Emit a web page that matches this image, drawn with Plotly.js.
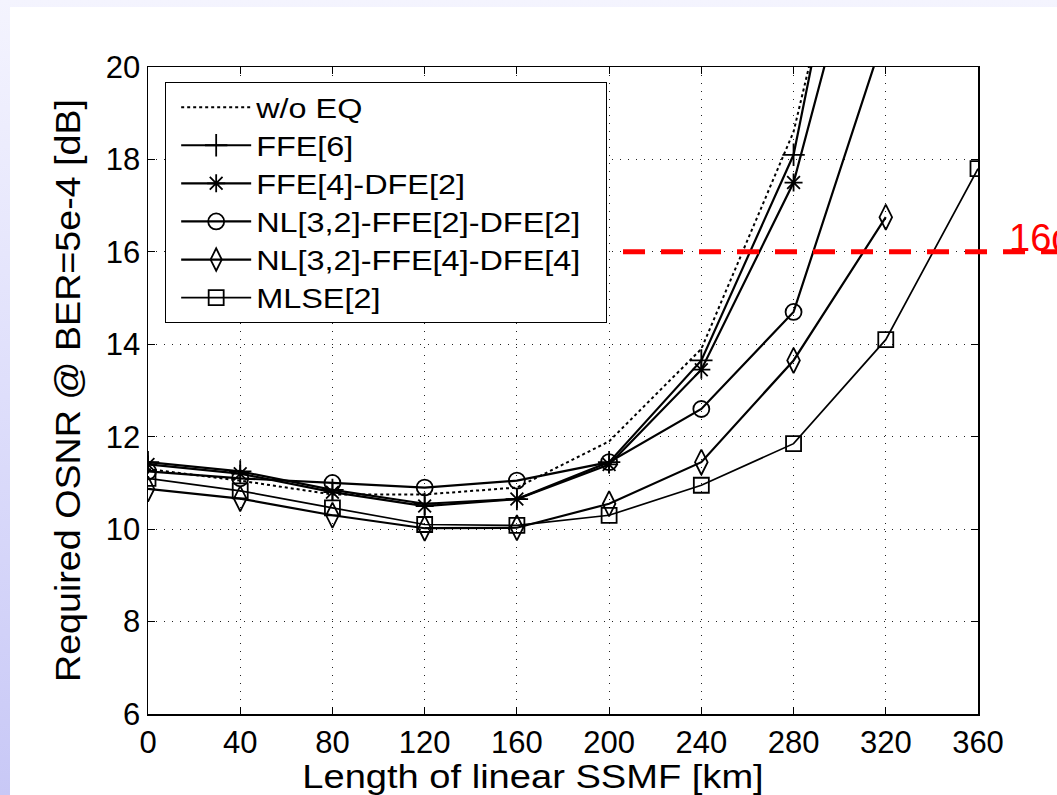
<!DOCTYPE html>
<html>
<head>
<meta charset="utf-8">
<script src="https://cdn.plot.ly/plotly-3.0.1.min.js"></script>
<style>
  html, body { margin:0; padding:0; width:1057px; height:795px; overflow:hidden;
    background: linear-gradient(to bottom, #f4f4fe 0%, #dedefb 50%, #c8c8f6 100%); }
  #panel { position:absolute; left:10px; top:7px; right:0; bottom:0; background:#ffffff; }
  #chart { position:absolute; left:0; top:0; width:1057px; height:795px; }
</style>
</head>
<body>
<div id="panel"></div>
<div id="chart"></div>
<script>
// ---- data ----
const lengthKm   = [0, 40, 80, 120, 160, 200, 240, 280, 320];
const lengthKm10 = [0, 40, 80, 120, 160, 200, 240, 280, 320, 360];
const woEQ       = [11.3, 11.05, 10.75, 10.75, 10.9, 11.9, 13.9, 18.6, 27];
const ffe6       = [11.45, 11.25, 10.85, 10.55, 10.65, 11.45, 13.65, 18.1, 28];
const ffe4dfe2   = [11.4, 11.2, 10.8, 10.5, 10.65, 11.4, 13.45, 17.5, 25];
const nlFfe2Dfe2 = [11.25, 11.1, 11.0, 10.9, 11.05, 11.45, 12.6, 14.7, 20.8];
const nlFfe4Dfe4 = [10.87, 10.66, 10.3, 10.02, 10.03, 10.55, 11.45, 13.65, 16.75];
const mlse2      = [11.1, 10.83, 10.46, 10.1, 10.08, 10.3, 10.95, 11.85, 14.1, 17.8];
const seriesNames = ['w/o EQ', 'FFE[6]', 'FFE[4]-DFE[2]', 'NL[3,2]-FFE[2]-DFE[2]', 'NL[3,2]-FFE[4]-DFE[4]', 'MLSE[2]'];
const xTicks = [0, 40, 80, 120, 160, 200, 240, 280, 320, 360];
const yTicks = [6, 8, 10, 12, 14, 16, 18, 20];
const thresholdOSNR = 16;
const thresholdLabel = '16dB';

const FONT = 'Liberation Sans, Arial, Helvetica, sans-serif';

function tr(x, y, name, symbol, size, lw, dash) {
  const t = { x: x, y: y, name: name, type: 'scatter',
    line: { color: 'black', width: lw, dash: dash || 'solid' } };
  if (symbol) {
    t.mode = 'lines+markers';
    t.marker = { symbol: symbol, size: size, color: 'black', line: { color: 'black', width: 1.8 } };
  } else {
    t.mode = 'lines';
  }
  return t;
}

const data = [
  tr(lengthKm, woEQ, seriesNames[0], null, 0, 2, 'dot'),
  tr(lengthKm, ffe6, seriesNames[1], 'cross-thin-open', 16, 2.2),
  tr(lengthKm, ffe4dfe2, seriesNames[2], 'asterisk-open', 15, 2.2),
  tr(lengthKm, nlFfe2Dfe2, seriesNames[3], 'circle-open', 16, 2.2),
  tr(lengthKm, nlFfe4Dfe4, seriesNames[4], 'diamond-tall-open', 18, 2.2),
  tr(lengthKm10, mlse2, seriesNames[5], 'square-open', 15, 1.7)
];

const axisCommon = {
  showline: true, linecolor: 'black', linewidth: 1.5, mirror: 'ticks',
  ticks: 'inside', ticklen: 7, tickcolor: 'black', tickwidth: 1.2,
  showgrid: true, gridcolor: '#222', gridwidth: 1, griddash: '1px,7px',
  zeroline: false, automargin: false,
  tickfont: { family: FONT, size: 31, color: 'black' }
};

const layout = {
  width: 1057, height: 795,
  margin: { l: 148, r: 79, t: 67, b: 81 },
  paper_bgcolor: 'rgba(0,0,0,0)', plot_bgcolor: 'white',
  font: { family: FONT, color: 'black' },
  showlegend: true,
  xaxis: Object.assign({}, axisCommon, {
    range: [0, 360], tickmode: 'array', tickvals: xTicks,
    title: { text: 'Length of linear SSMF [km]', font: { family: FONT, size: 34, color: 'black' }, standoff: 3 }
  }),
  yaxis: Object.assign({}, axisCommon, {
    range: [6, 20], tickmode: 'array', tickvals: yTicks,
    title: { text: 'Required OSNR @ BER=5e-4 [dB]', font: { family: FONT, size: 35, color: 'black' }, standoff: 14 }
  }),
  legend: {
    x: 0.0325, y: 0.977, xanchor: 'left', yanchor: 'top',
    bgcolor: 'white', bordercolor: 'black', borderwidth: 1.2,
    font: { family: FONT, size: 27, color: 'black' },
    itemwidth: 70, tracegroupgap: 0
  },
  shapes: [{
    type: 'line', xref: 'paper', yref: 'y',
    x0: 0.0687, x1: 1.2, y0: thresholdOSNR, y1: thresholdOSNR,
    line: { color: '#ff0000', width: 5, dash: '22px,16px' }
  }],
  annotations: [{
    xref: 'paper', yref: 'y', x: 1.035, y: thresholdOSNR + 0.3,
    xanchor: 'left', yanchor: 'middle', showarrow: false,
    text: thresholdLabel, font: { family: FONT, size: 38, color: '#ff0000' }
  }]
};

function stretchText(nodes, factor) {
  nodes.forEach(function (t) {
    const L = t.getComputedTextLength();
    if (L > 0) {
      t.setAttribute('textLength', (L * factor).toFixed(1));
      t.setAttribute('lengthAdjust', 'spacingAndGlyphs');
    }
  });
}

const gd = document.getElementById('chart');
Plotly.newPlot(gd, data, layout, { displayModeBar: false, staticPlot: true }).then(function () {
  // the reference typography is horizontally wider than Arial
  stretchText(gd.querySelectorAll('text.legendtext'), 1.2);
  stretchText(gd.querySelectorAll('text.xtitle'), 1.12);
  stretchText(gd.querySelectorAll('text.ytitle'), 1.075);
  const xt = gd.querySelector('text.xtitle');
  if (xt) xt.setAttribute('x', '533');
  // widen the legend frame (and move its left edge out) to hold the wider text
  const legendWidth = 441, leftPad = 10;
  gd.querySelectorAll('g.legend rect.bg').forEach(function (r) {
    r.setAttribute('x', (parseFloat(r.getAttribute('x') || 0) - leftPad).toString());
    r.setAttribute('width', legendWidth);
  });
  document.querySelectorAll('clipPath[id^="legend"] rect').forEach(function (r) {
    r.setAttribute('x', (parseFloat(r.getAttribute('x') || 0) - leftPad).toString());
    r.setAttribute('width', legendWidth);
  });
});
</script>
</body>
</html>
